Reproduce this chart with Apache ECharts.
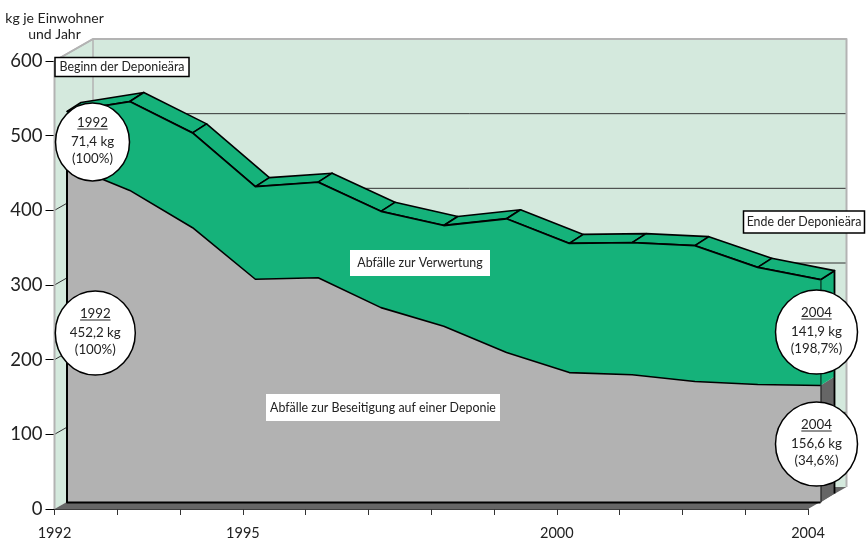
<!DOCTYPE html>
<html><head><meta charset="utf-8">
<style>html,body{margin:0;padding:0;background:#fff}#c{width:866px;height:538px}</style>
<script src="https://cdn.jsdelivr.net/npm/echarts@6/dist/echarts.min.js"></script>
</head><body><div id="c"></div>
<script>
const years=[1992,1993,1994,1995,1996,1997,1998,1999,2000,2001,2002,2003,2004];
const beseitigung=[452.2,418,368,299,301,261,236,201,174,171,162,158,156.6];
const verwertung=[71.4,119,127,124,128,129,135,179,173,177,182,157,141.9];
const xLabels=[1992,1995,2000,2004];
const yMax=600, yStep=100;
const yTitle='kg je Einwohner\nund Jahr';
const frontLabel='Abfälle zur Beseitigung auf einer Deponie';
const topLabel='Abfälle zur Verwertung';
const startLabel='Beginn der Deponieära';
const endLabel='Ende der Deponieära';
const callouts=[
 {year:'1992',val:'71,4 kg',pct:'(100%)'},
 {year:'1992',val:'452,2 kg',pct:'(100%)'},
 {year:'2004',val:'141,9 kg',pct:'(198,7%)'},
 {year:'2004',val:'156,6 kg',pct:'(34,6%)'}
];

// perspective offsets (pixels) of the pseudo-3D planes relative to the axis plane
const FRONT=[12.5,-6.5], BACK=[26.5,-15.5], WALL=[38.5,-22];
const GREEN='#15b27a', GREY='#b2b2b2', DARK='#666666', WALLC='#d4e9dd', EDGE='#b3b3b3', FONT='Lato, "Open Sans", sans-serif', INK='#222';
const off=(p,o)=>[p[0]+o[0],p[1]+o[1]];
const poly=(points,fill,stroke,lw)=>({type:'polygon',shape:{points},style:{fill,stroke:stroke||null,lineWidth:lw||0,lineJoin:'round'}});
const line=(points,stroke,lw)=>({type:'polyline',shape:{points},style:{fill:null,stroke,lineWidth:lw,lineJoin:'round'}});
const totals=beseitigung.map((v,i)=>v+verwertung[i]);

function once(fn){return (params,api)=>params.dataIndex===0?{type:'group',children:fn(api)}:null;}

const wallsItem=once(api=>{
  const x0=years[0],x1=years[years.length-1];
  const o=api.coord([x0,0]),t=api.coord([x0,yMax]),r=api.coord([x1,0]);
  const oW=off(o,WALL),tW=off(t,WALL),rW=off(r,WALL);
  const c=[];
  c.push(poly([o,t,tW,oW],WALLC));
  c.push(poly([oW,tW,[rW[0],tW[1]],rW],WALLC));
  c.push(poly([o,r,rW,oW],DARK));
  for(let v=yStep;v<yMax;v+=yStep){
    const p=api.coord([x0,v]),q=off(p,WALL);
    c.push(line([p,q,[rW[0],q[1]]],'#333',1));
  }
  c.push(line([o,t,tW,[rW[0],tW[1]],rW],EDGE,2));
  c.push(line([t,tW,oW],EDGE,1.5));
  return c;
});

const sideItem=once(api=>{
  const n=years.length-1,x=years[n];
  const f0=off(api.coord([x,0]),FRONT),b0=off(api.coord([x,0]),BACK);
  const f1=off(api.coord([x,beseitigung[n]]),FRONT),b1=off(api.coord([x,beseitigung[n]]),BACK);
  const f2=off(api.coord([x,totals[n]]),FRONT),b2=off(api.coord([x,totals[n]]),BACK);
  return [poly([f0,f1,b1,b0],DARK),poly([f1,f2,b2,b1],GREEN),
    line([b0,b2,f2,f0],'#000',1.8)];
});

const upperItem=once(api=>{
  const top=years.map((y,i)=>api.coord([y,totals[i]]));
  const low=years.map((y,i)=>api.coord([y,beseitigung[i]]));
  const c=[];
  for(let i=0;i<top.length-1;i++){
    c.push(poly([off(top[i],FRONT),off(top[i+1],FRONT),off(top[i+1],BACK),off(top[i],BACK)],GREEN,'#000',1.6));
  }
  c.push(poly(top.concat(low.slice().reverse()).map(p=>off(p,FRONT)),GREEN));
  c.push(line(top.map(p=>off(p,FRONT)),'#000',1.8));
  return c;
});

const lowerItem=once(api=>{
  const low=years.map((y,i)=>api.coord([y,beseitigung[i]])).map(p=>off(p,FRONT));
  const a=off(api.coord([years[0],0]),FRONT),b=off(api.coord([years[years.length-1],0]),FRONT);
  return [poly([a].concat(low,[b]),GREY),line(low,'#000',1.6),line([low[0],a,b],'#000',2)];
});

function txt(x,y,text,size){
  return {type:'text',x,y,z:110,style:{text,fill:INK,font:size+'px '+FONT,textAlign:'center',textVerticalAlign:'middle'}};
}
function labelBox(cx,cy,w,h,text,border){
  return [
    {type:'rect',z:105,shape:{x:cx-w/2,y:cy-h/2,width:w,height:h},style:{fill:'#fff',stroke:border?'#000':null,lineWidth:border?1.5:0}},
    txt(cx,cy,text,12.4)
  ];
}
function bubble(c,cx,cy,rx,ry){
  const uw=c.year.length*7.6;
  return [
    {type:'ellipse',z:105,shape:{cx,cy,rx,ry},style:{fill:'#fff',stroke:'#000',lineWidth:1.5}},
    txt(cx,cy-19,c.year,13.3),
    {type:'line',z:110,shape:{x1:cx-uw/2,y1:cy-13,x2:cx+uw/2,y2:cy-13},style:{stroke:INK,lineWidth:1}},
    txt(cx,cy,c.val,13.3),
    txt(cx,cy+17,c.pct,13.3)
  ];
}

const chart=echarts.init(document.getElementById('c'),null,{renderer:'canvas'});
const seriesData=years.map((y,i)=>[y,beseitigung[i],verwertung[i]]);
const mk=(name,renderItem,z)=>({type:'custom',name,renderItem,data:seriesData,z,clip:false,silent:true,animation:false,encode:{x:0,y:1}});
chart.setOption({
  animation:false,
  backgroundColor:'#fff',
  grid:{left:54.5,top:61,width:753.5,height:448,containLabel:false,outerBoundsMode:'none'},
  xAxis:{type:'value',min:years[0],max:years[years.length-1],interval:1,
    splitLine:{show:false},
    axisLine:{show:true,lineStyle:{color:'#000',width:1.5}},
    axisTick:{show:true,length:6,lineStyle:{color:'#333',width:1}},
    axisLabel:{margin:17,color:INK,fontFamily:FONT,fontSize:14.5,showMinLabel:true,showMaxLabel:true,
      formatter:v=>xLabels.includes(v)?String(v):''}},
  yAxis:{type:'value',min:0,max:yMax,interval:yStep,
    name:yTitle,nameLocation:'end',nameGap:19,
    nameTextStyle:{color:INK,fontFamily:FONT,fontSize:14,align:'center',lineHeight:16},
    splitLine:{show:false},
    axisLine:{show:false},
    axisTick:{show:true,length:9,lineStyle:{color:'#000',width:1}},
    axisLabel:{margin:12,color:INK,fontFamily:FONT,fontSize:18.5}},
  series:[
    mk('Wand',wallsItem,1),
    mk('Seite',sideItem,2),
    mk('Abfälle zur Verwertung',upperItem,3),
    mk('Abfälle zur Beseitigung',lowerItem,4)
  ],
  graphic:[].concat(
    labelBox(122,67,134,19,startLabel,true),
    labelBox(804,222,121,22,endLabel,true),
    labelBox(420,263,140,26,topLabel,false),
    labelBox(383,407.5,234,27,frontLabel,false),
    bubble(callouts[0],92.5,142,37,39),
    bubble(callouts[1],95.3,333,40,42),
    bubble(callouts[2],816.5,332,41,42),
    bubble(callouts[3],816.5,444,41,42)
  )
});
</script></body></html>
